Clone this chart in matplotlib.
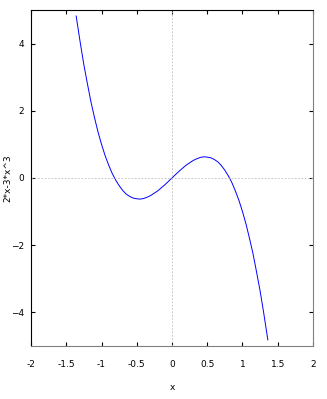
import matplotlib
matplotlib.use("Agg")
import matplotlib.pyplot as plt

# Data
x = [-1.36, -1.3, -1.25, -1.2, -1.15, -1.1, -1.05, -1.0, -0.95, -0.9, -0.85, -0.8, -0.75,
     -0.7, -0.65, -0.6, -0.55, -0.5, -0.45, -0.4, -0.35, -0.3, -0.25, -0.2, -0.15, -0.1,
     -0.05, 0.0, 0.05, 0.1, 0.15, 0.2, 0.25, 0.3, 0.35, 0.4, 0.45, 0.5, 0.55, 0.6, 0.65,
     0.7, 0.75, 0.8, 0.85, 0.9, 0.95, 1.0, 1.05, 1.1, 1.15, 1.2, 1.25, 1.3, 1.36]
y = [4.82, 4.0, 3.36, 2.8, 2.26, 1.8, 1.37, 1.0, 0.67, 0.39, 0.14, -0.06, -0.23,
     -0.37, -0.48, -0.55, -0.60, -0.62, -0.63, -0.61, -0.57, -0.52, -0.45, -0.38, -0.29, -0.2,
     -0.1, 0.0, 0.1, 0.2, 0.29, 0.38, 0.45, 0.52, 0.57, 0.61, 0.63, 0.62, 0.60, 0.55, 0.48,
     0.37, 0.23, 0.06, -0.14, -0.39, -0.67, -1.0, -1.37, -1.8, -2.26, -2.8, -3.36, -4.0, -4.82]
xticks = [-2, -1.5, -1, -0.5, 0, 0.5, 1, 1.5, 2]
yticks = [-4, -2, 0, 2, 4]

fig = plt.figure(figsize=(3.27, 3.99), dpi=100)
ax = fig.add_axes([0.095, 0.133, 0.862, 0.842])

ax.plot(x, y, color='blue', linewidth=0.7)

# dotted zero lines
ax.axhline(0, color='#bbbbbb', linestyle=(0, (2, 2)), linewidth=0.6)
ax.axvline(0, color='#bbbbbb', linestyle=(0, (2, 2)), linewidth=0.6)

ax.set_xlim(-2, 2)
ax.set_ylim(-5, 5)
ax.set_xticks(xticks)
ax.set_xticklabels([f"{t:g}" for t in xticks])
ax.set_yticks(yticks)
ax.tick_params(direction='in', top=True, right=True, labelsize=6.5, length=3, width=0.8)
ax.tick_params(axis='x', pad=10)
ax.tick_params(axis='y', pad=5)

ax.spines['left'].set_color('black')
ax.spines['top'].set_color('black')
ax.spines['right'].set_color('gray')
ax.spines['bottom'].set_color('gray')
for s in ax.spines.values():
    s.set_linewidth(0.8)

ax.set_xlabel('x', fontsize=6.5)
ax.set_ylabel('2*x-3*x^3', fontsize=6.5)
ax.xaxis.set_label_coords(0.5, -0.11)
ax.yaxis.set_label_coords(-0.065, 0.5)

fig.savefig('out.png', dpi=100)
